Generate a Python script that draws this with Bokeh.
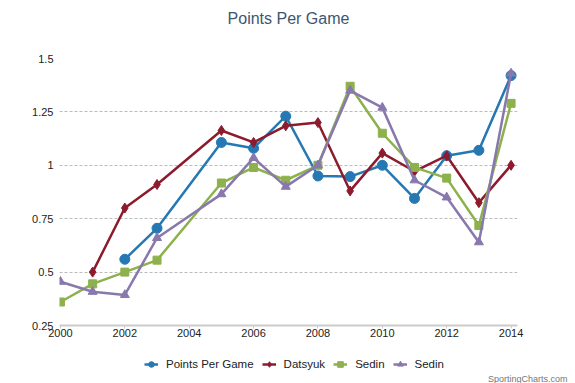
from bokeh.plotting import figure
from bokeh.models import Range1d, FixedTicker, Legend, LegendItem, Label, Title
from bokeh.layouts import column
from bokeh.embed import file_html
from bokeh.resources import INLINE

ppg_years = [2002, 2003, 2005, 2006, 2007, 2008, 2009, 2010, 2011, 2012, 2013, 2014]
ppg_vals = [0.56, 0.705, 1.107, 1.08, 1.23, 0.95, 0.947, 1.0, 0.845, 1.045, 1.07, 1.42]

dats_years = [2001, 2002, 2003, 2005, 2006, 2007, 2008, 2009, 2010, 2011, 2012, 2013, 2014]
dats_vals = [0.5, 0.8, 0.91, 1.163, 1.107, 1.185, 1.2, 0.88, 1.057, 0.972, 1.045, 0.825, 1.0]

sedin1_years = [2000, 2001, 2002, 2003, 2005, 2006, 2007, 2008, 2009, 2010, 2011, 2012, 2013, 2014]
sedin1_vals = [0.36, 0.445, 0.5, 0.556, 0.917, 0.99, 0.93, 1.0, 1.37, 1.15, 0.99, 0.94, 0.718, 1.29]

sedin2_years = [2000, 2001, 2002, 2003, 2005, 2006, 2007, 2008, 2009, 2010, 2011, 2012, 2013, 2014]
sedin2_vals = [0.455, 0.408, 0.393, 0.66, 0.865, 1.035, 0.9, 1.0, 1.35, 1.27, 0.93, 0.85, 0.64, 1.43]

x_ticks = [2000, 2002, 2004, 2006, 2008, 2010, 2012, 2014]
y_ticks = [0.25, 0.5, 0.75, 1.0, 1.25, 1.5]
y_tick_labels = ["0.25", "0.5", "0.75", "1", "1.25", "1.5"]

FONT = "Liberation Sans"

# title strip
p0 = figure(width=575, height=30, output_backend="svg", toolbar_location=None,
            x_range=Range1d(0, 1), y_range=Range1d(0, 1),
            min_border_left=59, min_border_right=58, min_border_top=0, min_border_bottom=0)
p0.axis.visible = False
p0.grid.visible = False
p0.outline_line_color = None
p0.title = None
p0.add_layout(Label(x=229, y=12, x_units="screen", y_units="screen", text="Points Per Game",
                    text_font=FONT, text_font_size="16px", text_color="#3d5670",
                    text_align="center", text_baseline="middle"))

# main chart
p = figure(width=575, height=317, output_backend="svg", toolbar_location=None,
           x_range=Range1d(1999.97, 2014.2), y_range=Range1d(0.25, 1.5),
           min_border_left=59, min_border_right=58, min_border_top=28, min_border_bottom=22)
p.title = None
p.outline_line_color = None
p.background_fill_color = "white"

p.xgrid.grid_line_color = None
p.ygrid.grid_line_color = "#bbbbbb"
p.ygrid.grid_line_dash = "3 2"
p.ygrid.grid_line_width = 1

p.xaxis.ticker = FixedTicker(ticks=x_ticks)
p.xaxis.minor_tick_line_color = None
p.xaxis.major_tick_in = 0
p.xaxis.major_tick_out = 3
p.xaxis.major_tick_line_color = "#cccccc"
p.xaxis.axis_line_color = "#cccccc"
p.xaxis.axis_line_width = 2
p.xaxis.major_label_standoff = 0
p.xaxis.major_label_text_font = FONT
p.xaxis.major_label_text_font_size = "11px"
p.xaxis.major_label_text_color = "#222222"

p.yaxis.ticker = FixedTicker(ticks=y_ticks)
p.yaxis.major_label_overrides = {t: l for t, l in zip(y_ticks, y_tick_labels)}
p.yaxis.axis_line_color = None
p.yaxis.major_tick_line_color = None
p.yaxis.minor_tick_line_color = None
p.yaxis.major_tick_out = 0
p.yaxis.major_tick_in = 0
p.yaxis.major_label_standoff = 6
p.yaxis.major_label_text_font = FONT
p.yaxis.major_label_text_font_size = "11px"
p.yaxis.major_label_text_color = "#222222"

series = [
    ("Points Per Game", ppg_years, ppg_vals, "#2678b3", "circle", 10),
    ("Datsyuk", dats_years, dats_vals, "#8c1b2d", "diamond", 10),
    ("Sedin", sedin1_years, sedin1_vals, "#8db14c", "square", 8),
    ("Sedin", sedin2_years, sedin2_vals, "#8878ad", "triangle", 9),
]

# legend strip below the chart (its series sit outside its visible range)
p2 = figure(width=575, height=36, output_backend="svg", toolbar_location=None,
            x_range=Range1d(0, 1), y_range=Range1d(0, 1),
            min_border_left=59, min_border_right=58, min_border_top=0, min_border_bottom=12)
p2.axis.visible = False
p2.grid.visible = False
p2.outline_line_color = None
p2.title = None

items = []
for name, xs, ys, col, mk, sz in series:
    p.line(xs, ys, line_color=col, line_width=2.5)
    p.scatter(xs, ys, marker=mk, size=sz, fill_color=col, line_color=col)
    ln = p2.line(xs, ys, line_color=col, line_width=2.5)
    sc = p2.scatter(xs, ys, marker=mk, size=sz, fill_color=col, line_color=col)
    items.append(LegendItem(label=name, renderers=[ln, sc]))

legend = Legend(items=items, orientation="horizontal", location=(85, 0),
                label_text_font=FONT, label_text_font_size="11.5px", label_text_color="#222222",
                glyph_width=14, glyph_height=14, label_standoff=8, spacing=8,
                padding=2, margin=0, border_line_color=None, background_fill_alpha=0,
                label_height=14)
p2.add_layout(legend, "center")

credit = Title(text="SportingCharts.com", align="right", offset=-50, standoff=0,
               text_font=FONT, text_font_size="9px", text_color="#777777",
               text_font_style="normal")
p2.add_layout(credit, "below")

layout = column(p0, p, p2, spacing=0)
open("out.html", "w").write(file_html(layout, INLINE))
